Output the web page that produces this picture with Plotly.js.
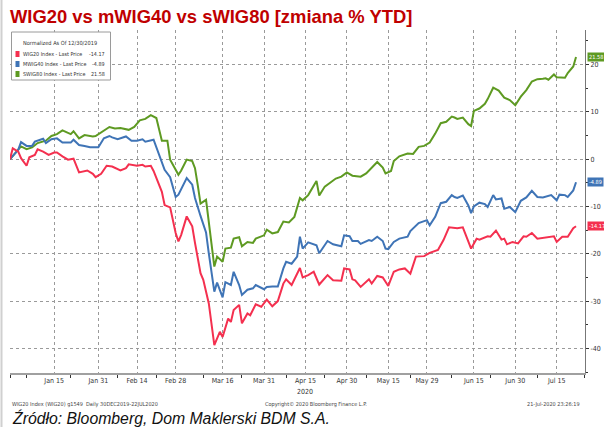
<!DOCTYPE html>
<html>
<head>
<meta charset="utf-8">
<script src="https://cdn.plot.ly/plotly-3.0.1.min.js"></script>
<style>
html,body{margin:0;padding:0;background:#fff;}
#chart{width:604px;height:427px;}
</style>
</head>
<body>
<div id="chart"></div>
<script>
// ---- data (% change since 12/30/2019) ----
const swig80Dates = ["2019-12-30","2020-01-01","2020-01-03","2020-01-05","2020-01-07","2020-01-09","2020-01-12","2020-01-14","2020-01-16","2020-01-18","2020-01-20","2020-01-21","2020-01-22","2020-01-24","2020-01-26","2020-01-29","2020-01-30","2020-02-02","2020-02-04","2020-02-06","2020-02-08","2020-02-11","2020-02-13","2020-02-15","2020-02-17","2020-02-19","2020-02-21","2020-02-23","2020-02-25","2020-02-26","2020-02-29","2020-03-01","2020-03-03","2020-03-05","2020-03-06","2020-03-07","2020-03-08","2020-03-10","2020-03-11","2020-03-13","2020-03-14","2020-03-16","2020-03-17","2020-03-19","2020-03-20","2020-03-22","2020-03-23","2020-03-25","2020-03-27","2020-03-28","2020-03-31","2020-04-01","2020-04-03","2020-04-05","2020-04-07","2020-04-09","2020-04-11","2020-04-13","2020-04-14","2020-04-16","2020-04-19","2020-04-20","2020-04-22","2020-04-24","2020-04-26","2020-04-28","2020-04-30","2020-05-02","2020-05-05","2020-05-07","2020-05-09","2020-05-11","2020-05-13","2020-05-14","2020-05-16","2020-05-17","2020-05-19","2020-05-22","2020-05-24","2020-05-26","2020-05-28","2020-05-30","2020-06-01","2020-06-03","2020-06-05","2020-06-07","2020-06-08","2020-06-09","2020-06-11","2020-06-13","2020-06-14","2020-06-15","2020-06-17","2020-06-19","2020-06-20","2020-06-22","2020-06-24","2020-06-26","2020-06-28","2020-06-30","2020-07-02","2020-07-04","2020-07-06","2020-07-08","2020-07-10","2020-07-11","2020-07-12","2020-07-14","2020-07-15","2020-07-17","2020-07-18","2020-07-19","2020-07-21","2020-07-22"];
const swig80Vals = [0,1.3,2.7,2.1,2.5,3.4,3.9,4.9,5.3,6.1,5.6,5.3,5.9,4.4,5.1,4.8,4.9,6.1,6.8,6.5,6.6,6.2,6.8,8.2,8.5,9.3,8.7,3.9,3.9,-0.1,-3.3,-2.4,-0.1,-0.4,-1.9,-5.5,-9.4,-8.6,-13.6,-22.7,-20.6,-21.7,-18.9,-18.7,-16.8,-16.5,-18.4,-17.5,-17.7,-16.8,-16.1,-14.9,-15.7,-15.4,-13.2,-13.4,-12.2,-8.2,-8.7,-7.6,-4.6,-7.7,-5.8,-4.9,-4.1,-3.7,-2.8,-3.5,-3.7,-3.0,-1.8,-0.6,-1.8,-3.0,-2.5,-0.4,0.6,1.2,1.1,2.6,2.8,3.5,5.4,7.6,7.9,9.0,8.8,8.5,8.8,7.4,7.0,10.2,10.7,11.7,12.7,15.1,14.5,13.0,12.5,11.4,13.2,14.6,16.4,16.9,17.0,17.1,16.8,17.9,17.3,17.3,17.2,18.2,19.6,21.58];

const mwig40Dates = ["2019-12-30","2020-01-01","2020-01-02","2020-01-03","2020-01-05","2020-01-07","2020-01-08","2020-01-11","2020-01-12","2020-01-14","2020-01-16","2020-01-18","2020-01-21","2020-01-22","2020-01-24","2020-01-26","2020-01-28","2020-01-31","2020-02-02","2020-02-04","2020-02-05","2020-02-07","2020-02-10","2020-02-12","2020-02-14","2020-02-16","2020-02-17","2020-02-20","2020-02-23","2020-02-24","2020-02-26","2020-02-28","2020-02-29","2020-03-03","2020-03-05","2020-03-06","2020-03-08","2020-03-09","2020-03-10","2020-03-11","2020-03-13","2020-03-14","2020-03-16","2020-03-17","2020-03-19","2020-03-20","2020-03-22","2020-03-23","2020-03-25","2020-03-27","2020-03-28","2020-03-31","2020-04-01","2020-04-03","2020-04-05","2020-04-07","2020-04-08","2020-04-10","2020-04-12","2020-04-13","2020-04-14","2020-04-16","2020-04-18","2020-04-19","2020-04-20","2020-04-23","2020-04-25","2020-04-28","2020-04-29","2020-05-01","2020-05-02","2020-05-04","2020-05-05","2020-05-08","2020-05-09","2020-05-11","2020-05-13","2020-05-14","2020-05-15","2020-05-17","2020-05-19","2020-05-22","2020-05-23","2020-05-26","2020-05-28","2020-05-29","2020-05-30","2020-06-01","2020-06-03","2020-06-05","2020-06-07","2020-06-08","2020-06-09","2020-06-11","2020-06-13","2020-06-14","2020-06-15","2020-06-17","2020-06-19","2020-06-20","2020-06-22","2020-06-23","2020-06-25","2020-06-26","2020-06-28","2020-06-30","2020-07-02","2020-07-04","2020-07-06","2020-07-08","2020-07-10","2020-07-11","2020-07-13","2020-07-15","2020-07-16","2020-07-18","2020-07-19","2020-07-21","2020-07-22"];
const mwig40Vals = [0,1.3,2.0,3.6,2.8,2.8,3.7,4.3,3.4,4.2,4.4,3.5,3.5,4.1,3.0,2.8,2.5,2.5,4.4,4.9,4.6,4.2,4.8,3.9,3.9,4.2,3.7,4.1,-0.35,-2.25,-3.8,-8.0,-7.5,-4.0,-5.4,-8.2,-12.0,-14.0,-15.5,-19.9,-28.0,-26.1,-29.2,-26.0,-26.6,-23.8,-26.6,-28.7,-27.6,-27.3,-26.6,-27.5,-27.0,-26.9,-26.9,-23.1,-21.7,-22.1,-20.6,-16.4,-18.9,-17.6,-17.9,-18.2,-19.9,-17.3,-18.0,-18.4,-16.1,-16.3,-17.3,-17.3,-17.9,-17.1,-17.3,-16.4,-17.3,-18.9,-19.0,-17.5,-16.8,-16.4,-15.2,-13.5,-13.1,-12.9,-14.0,-12.2,-9.3,-9.0,-7.6,-8.0,-8.2,-7.7,-9.8,-11.4,-10.0,-9.2,-9.5,-10.1,-7.6,-8.5,-8.3,-10.5,-10.1,-11.2,-8.8,-8.1,-6.7,-8.0,-8.1,-7.9,-7.6,-8.7,-7.5,-7.6,-8.0,-6.6,-4.89];

const wig20Dates = ["2019-12-30","2019-12-31","2020-01-02","2020-01-03","2020-01-05","2020-01-06","2020-01-08","2020-01-09","2020-01-11","2020-01-13","2020-01-15","2020-01-16","2020-01-18","2020-01-20","2020-01-22","2020-01-24","2020-01-27","2020-01-29","2020-01-30","2020-02-01","2020-02-03","2020-02-05","2020-02-08","2020-02-10","2020-02-11","2020-02-14","2020-02-16","2020-02-17","2020-02-19","2020-02-20","2020-02-23","2020-02-24","2020-02-26","2020-02-28","2020-02-29","2020-03-01","2020-03-03","2020-03-05","2020-03-06","2020-03-08","2020-03-09","2020-03-11","2020-03-13","2020-03-15","2020-03-16","2020-03-18","2020-03-19","2020-03-20","2020-03-22","2020-03-23","2020-03-25","2020-03-26","2020-03-28","2020-03-30","2020-04-01","2020-04-03","2020-04-05","2020-04-07","2020-04-08","2020-04-10","2020-04-13","2020-04-14","2020-04-16","2020-04-18","2020-04-20","2020-04-23","2020-04-25","2020-04-28","2020-04-29","2020-05-01","2020-05-02","2020-05-03","2020-05-05","2020-05-08","2020-05-09","2020-05-11","2020-05-13","2020-05-15","2020-05-17","2020-05-19","2020-05-21","2020-05-23","2020-05-25","2020-05-28","2020-05-30","2020-06-02","2020-06-04","2020-06-06","2020-06-09","2020-06-11","2020-06-14","2020-06-16","2020-06-17","2020-06-20","2020-06-21","2020-06-23","2020-06-25","2020-06-26","2020-06-27","2020-06-29","2020-07-01","2020-07-03","2020-07-04","2020-07-06","2020-07-08","2020-07-11","2020-07-14","2020-07-15","2020-07-17","2020-07-19","2020-07-21","2020-07-22"];
const wig20Vals = [0,2.3,1.6,0.2,-1.4,0.4,0.9,2.1,1.6,0.9,1.4,1.4,0.6,-0.1,0.1,-2.8,-2.4,-3.1,-3.8,-3.1,-1.4,-1.55,-2.4,-1.9,-1.1,-1.4,-1.2,-1.55,-1.4,-2.5,-6.9,-9.7,-10.2,-15.6,-17.4,-16.0,-12.1,-14.2,-17.7,-24.1,-25.5,-30.5,-39.3,-36.5,-37.6,-33.7,-34.4,-31.9,-30.8,-34.7,-32.6,-33.0,-30.7,-31.2,-29.7,-31.1,-30.0,-26.3,-25.4,-26.6,-23.0,-25.0,-24.5,-23.8,-26.5,-24.5,-25.6,-25.7,-23.1,-23.3,-25.4,-25.6,-27.0,-25.4,-26.3,-24.7,-25.0,-26.8,-23.8,-23.3,-23.1,-24.2,-20.6,-20.5,-19.8,-19.2,-17.1,-14.4,-14.6,-14.4,-18.9,-16.8,-17.0,-16.3,-16.4,-15.1,-17.0,-16.8,-18.0,-17.5,-17.8,-16.3,-16.4,-15.6,-16.8,-16.5,-16.3,-17.5,-16.4,-16.4,-14.6,-14.17];

const seriesNames = ["WIG20 Index - Last Price", "MWIG40 Index - Last Price", "SWIG80 Index - Last Price"];
const lastValues = ["-14.17", "-4.89", "21.58"];
const lastNumbers = [-14.17, -4.89, 21.58];

const xTickVals = ["2019-12-30","2020-01-15","2020-01-31","2020-02-14","2020-02-28","2020-03-16","2020-03-31","2020-04-15","2020-04-30","2020-05-15","2020-05-29","2020-06-15","2020-06-30","2020-07-15"];
const xTickText = ["","Jan 15","Jan 31","Feb 14","Feb 28","Mar 16","Mar 31","Apr 15","Apr 30","May 15","May 29","Jun 15","Jun 30","Jul 15"];
const xMinorVals = ["2019-12-30","2020-01-05","2020-01-21","2020-02-07","2020-02-21","2020-03-09","2020-03-23","2020-04-08","2020-04-22","2020-05-07","2020-05-23","2020-06-07","2020-06-21","2020-07-08","2020-07-25"];
const yTickVals = [-40,-30,-20,-10,0,10,20];
const yTickText = ["-40","-30","-20","-10","0","10","20"];

// ---- styling ----
const colors = ["#f4304f", "#3f74b6", "#5e9a22"]; // WIG20, mWIG40, sWIG80
const narrow = "Liberation Sans Narrow, DejaVu Sans Condensed, Arial Narrow, sans-serif";

// pixel helpers for paper coordinates (plot area: x 10..585, y 30..373)
const PL = 10, PR = 585, PT = 30, PB = 373;
const px = x => (x - PL) / (PR - PL);
const py = y => (PB - y) / (PB - PT);

const traces = [
  {x: swig80Dates, y: swig80Vals, name: seriesNames[2], type: "scatter", mode: "lines",
   line: {color: colors[2], width: 2}, hoverinfo: "skip"},
  {x: mwig40Dates, y: mwig40Vals, name: seriesNames[1], type: "scatter", mode: "lines",
   line: {color: colors[1], width: 2}, hoverinfo: "skip"},
  {x: wig20Dates, y: wig20Vals, name: seriesNames[0], type: "scatter", mode: "lines",
   line: {color: colors[0], width: 2}, hoverinfo: "skip"}
];

const annotations = [];
const shapes = [];

// legend box
shapes.push({type: "rect", xref: "paper", yref: "paper",
  x0: px(11.5), x1: px(110.5), y0: py(80), y1: py(32),
  line: {color: "#9a9a9a", width: 1}, fillcolor: "#ffffff", layer: "above"});
annotations.push({xref: "paper", yref: "paper", x: px(60), y: py(43), xanchor: "center", yanchor: "middle",
  text: "Normalized As Of 12/30/2019", showarrow: false, font: {family: narrow, size: 5.6, color: "#333"}});
const legendRows = [54, 64, 74];
for (let i = 0; i < 3; i++) {
  shapes.push({type: "rect", xref: "paper", yref: "paper",
    x0: px(15.5), x1: px(19.5), y0: py(legendRows[i] + 3), y1: py(legendRows[i] - 3),
    line: {width: 0}, fillcolor: colors[i], layer: "above"});
  annotations.push({xref: "paper", yref: "paper", x: px(20.5), y: py(legendRows[i]), xanchor: "left", yanchor: "middle",
    text: seriesNames[i], showarrow: false, font: {family: narrow, size: 5.4, color: "#333"}});
  annotations.push({xref: "paper", yref: "paper", x: px(107), y: py(legendRows[i]), xanchor: "right", yanchor: "middle",
    text: lastValues[i], showarrow: false, font: {family: narrow, size: 5.4, color: "#333"}});
  // last value tags on the right axis
  annotations.push({xref: "paper", yref: "y", x: 1, xshift: 2, y: lastNumbers[i], xanchor: "left", yanchor: "middle",
    text: lastValues[i], showarrow: false, bgcolor: colors[i], borderpad: 1,
    font: {family: narrow, size: 5.6, color: "#ffffff"}});
}

// "2020" year label
annotations.push({xref: "x", yref: "paper", x: "2020-04-15", y: py(392), xanchor: "center", yanchor: "middle",
  text: "2020", showarrow: false, font: {family: narrow, size: 7, color: "#333"}});
// Bloomberg footer
annotations.push({xref: "paper", yref: "paper", x: px(10), y: py(404), xanchor: "left", yanchor: "middle",
  text: "WIG20 Index (WIG20) g1549  Daily 30DEC2019-22JUL2020", showarrow: false,
  font: {family: narrow, size: 5.5, color: "#444"}});
annotations.push({xref: "paper", yref: "paper", x: px(316), y: py(404), xanchor: "center", yanchor: "middle",
  text: "Copyright© 2020 Bloomberg Finance L.P.", showarrow: false,
  font: {family: narrow, size: 5.5, color: "#444"}});
annotations.push({xref: "paper", yref: "paper", x: px(525), y: py(404), xanchor: "left", yanchor: "middle",
  text: "21-Jul-2020 23:26:19", showarrow: false,
  font: {family: narrow, size: 5.5, color: "#444"}});
// source line
annotations.push({xref: "paper", yref: "paper", x: px(10), y: py(418), xanchor: "left", yanchor: "middle",
  text: "<i>Źródło: Bloomberg, Dom Maklerski BDM S.A.</i>", showarrow: false,
  font: {family: "Liberation Sans, Arial, sans-serif", size: 15.8, color: "#111"}});

// left border line of the picture
shapes.push({type: "line", xref: "paper", yref: "paper", x0: px(1.5), x1: px(1.5), y0: py(427), y1: py(0),
  line: {color: "#d0d0d0", width: 2}});

const layout = {
  width: 604, height: 427,
  margin: {l: PL, r: 604 - PR, t: PT, b: 427 - PB, pad: 0},
  paper_bgcolor: "#ffffff", plot_bgcolor: "#ffffff",
  showlegend: false,
  title: {text: "<b>WIG20 vs mWIG40 vs sWIG80 [zmiana % YTD]</b>",
    x: 10 / 604, xanchor: "left", xref: "container",
    y: 1 - 17 / 427, yanchor: "middle", yref: "container",
    font: {family: "Liberation Sans, Arial, sans-serif", size: 18.4, color: "#c00000"}},
  xaxis: {
    type: "date", range: ["2019-12-30", "2020-07-25 06:00"],
    tickmode: "array", tickvals: xTickVals, ticktext: xTickText,
    ticks: "", showgrid: true, gridcolor: "#9a9a9a", gridwidth: 1, griddash: "dot",
    showline: true, linecolor: "#a0a0a0", linewidth: 2, zeroline: false,
    tickfont: {family: narrow, size: 7, color: "#333"},
    minor: {tickmode: "array", tickvals: xMinorVals, ticks: "outside", ticklen: 3, tickwidth: 1, tickcolor: "#333", showgrid: false},
    fixedrange: true
  },
  yaxis: {
    side: "right", range: [-45.2, 27.3],
    tickmode: "array", tickvals: yTickVals, ticktext: yTickText,
    ticks: "outside", ticklen: 3, tickwidth: 1, tickcolor: "#333",
    showgrid: true, gridcolor: "#9a9a9a", gridwidth: 1, griddash: "dot",
    showline: true, linecolor: "#777", linewidth: 1, zeroline: false,
    tickfont: {family: narrow, size: 7, color: "#333"},
    minor: {dtick: 5, tick0: 0, ticks: "outside", ticklen: 2, tickcolor: "#333", showgrid: false},
    fixedrange: true
  },
  annotations: annotations,
  shapes: shapes
};

Plotly.newPlot("chart", traces, layout, {staticPlot: true, displayModeBar: false});
</script>
</body>
</html>
